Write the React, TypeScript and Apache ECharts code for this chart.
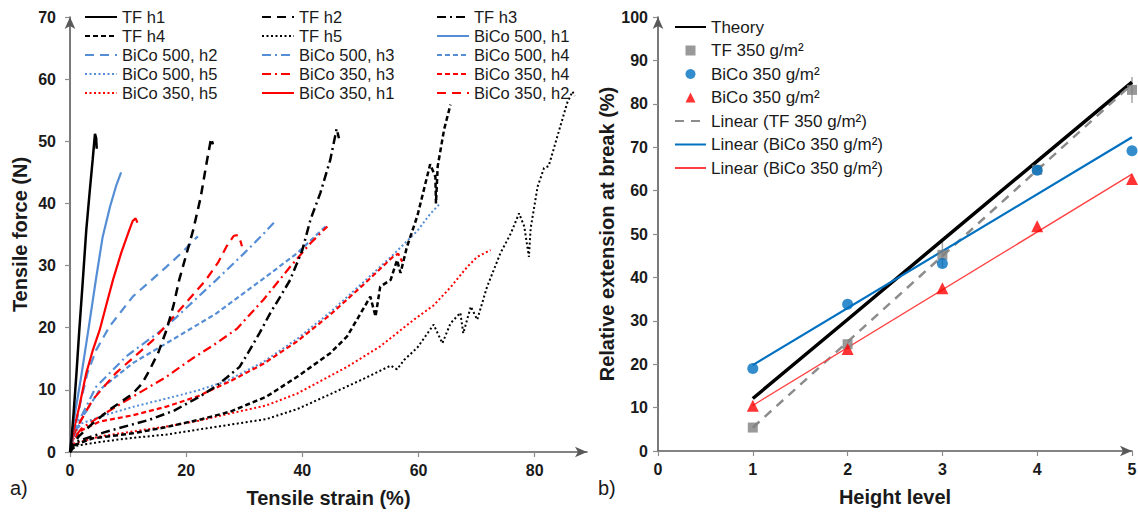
import React, { useEffect, useRef } from "react";
import * as echarts from "echarts";

const FONT = "'Liberation Sans', Arial, Helvetica, sans-serif";
const TXT = "#1a1a1a";

// ---------- Panel a) : [tensile strain %, tensile force N] ----------
const tfH1 = [[0,0],[0.3,2.5],[0.6,6],[1.1,12.5],[1.6,19.6],[2.2,27.5],[2.8,35.7],[3.4,42],[3.9,47],[4.3,51.2],[4.5,50.5],[4.6,48.8]];
const tfH2 = [[0,0],[0.5,1.3],[1.6,2.6],[3.9,4.6],[6.8,6.8],[9,8.2],[10.8,9.4],[12.4,11],[13.7,13.2],[15.2,16],[16.6,19.6],[17.8,23.5],[18.8,27.7],[20,31.7],[21.2,35.7],[22.5,41],[23.6,47],[24.3,50.5],[24.6,49.5]];
const tfH3 = [[0,0],[0.5,0.9],[1.5,1.8],[6,3.2],[13.7,5.2],[18,6.7],[22.3,8.9],[25,10.5],[27,12],[29.2,13.7],[31,16.5],[32.6,19.1],[34.5,22.4],[36.2,25],[37.9,27.7],[40,32.5],[41.4,37.4],[43.1,41.7],[44.8,47],[45.9,52],[46.3,50.5]];
const tfH4 = [[0,0],[1,1.2],[3.9,2.2],[10.8,3],[16.5,4],[22.3,5.2],[27.6,6.5],[33.8,8.9],[39.1,12.1],[44.8,15.9],[47.7,18.6],[49.4,21.3],[51.7,25],[52.6,21.8],[53.4,26.6],[55.2,27.7],[56.3,30.9],[56.9,28.8],[58,33],[59.8,38],[62,46.3],[62.9,44.3],[63,40],[63.3,46],[64.4,51.9],[65.5,55.9]];
const tfH5 = [[0,0],[1,1],[5.1,1.6],[10,2.2],[16.6,2.8],[22,3.6],[27.6,4.4],[33.8,5.3],[39.1,6.9],[44.8,9.3],[50.6,11.8],[55.2,13.9],[56.3,13.3],[57.5,14.8],[59.8,16.8],[62.6,20.5],[64.1,17.5],[65.5,20.7],[67.2,22.4],[67.7,19.1],[69,23.4],[70.1,21.3],[71.8,26.6],[74.1,32],[75.9,35.2],[77.3,38.4],[78.2,36.3],[79,31.4],[79.3,36],[80.5,42.7],[81.6,45.7],[82.4,46],[83.9,50.8],[85.6,56.2],[86.5,58],[86.9,57.3]];
const b500H1 = [[0,0],[0.3,3],[1,7],[1.9,12],[3.3,20.5],[4.5,28],[5.6,34.5],[6.9,39.5],[8,43],[8.8,45]];
const b500H2 = [[0,0],[0.4,2.5],[1,4.4],[1.9,8.4],[3,12.7],[4.5,16.4],[6.8,20.2],[10.8,25],[16.6,29.8],[19.5,32.3],[22,34.7]];
const b500H3 = [[0,0],[0.5,2.5],[1.2,4.5],[2.2,6.2],[4.5,10.5],[9.7,15.4],[16.6,20.2],[25.2,27.7],[30,32],[33.2,35],[35.3,37.1]];
const b500H4 = [[0,0],[0.5,2.2],[2.2,5.7],[5.1,10],[10.8,14.3],[16.6,17.5],[25.2,22.3],[33.3,27.9],[39.1,32],[44,36.3]];
const b500H5 = [[0,0],[0.4,2.5],[2,4.6],[6.2,6],[11,7.3],[16.6,8.6],[22,9.9],[26.9,11.4],[33.3,14.5],[39.1,18.2],[44.8,22.5],[50.6,27.4],[55.7,31.8],[59.8,35.6],[62,38.3],[63.8,40.1]];
const b350H1 = [[0,0],[0.3,2],[0.7,3.8],[1.6,7.3],[2.8,12.7],[3.9,16.3],[5.1,19.6],[6.2,23.5],[7.4,27.7],[8.8,32],[10.2,35.7],[10.8,37.2],[11.3,37.6],[11.6,36.9]];
const b350H2 = [[0,0],[0.5,2.5],[1.6,4.6],[3.9,8.4],[7.9,12.7],[14.3,18],[19.4,23.4],[23.4,27.7],[25.5,30.5],[26.9,33],[28.2,34.8],[28.9,34.9],[29.4,33.8],[29.6,33.1]];
const b350H3 = [[0,0],[0.5,2],[2,3.8],[5.1,5.7],[10.8,8.9],[16.6,12.1],[21,15],[25.2,17.5],[28.7,19.8],[33.3,24.5],[37.9,29.8],[41.4,33.6],[44.3,36.3]];
const b350H4 = [[0,0],[0.5,2],[2,3.5],[5.1,4.9],[10.8,5.9],[16.6,7.3],[22.1,9],[27.6,11.4],[33.3,14.2],[39.1,17.8],[44.8,22.1],[50.6,27],[55.7,31.5],[56.5,31.9],[57.2,30.6]];
const b350H5 = [[0,0],[0.5,1.3],[5.1,2.5],[10.8,3.3],[16.6,4.1],[22,5],[27.6,6.2],[33.8,7.5],[39.1,9.4],[47.7,13.7],[53.4,17],[59.2,21.3],[62.6,23.6],[65.5,26.5],[68.4,29.8],[70.1,31.4],[72.4,32.5]];

const strainTicks = [0, 20, 40, 60, 80];

// legend columns (panel a)
const legendCol1 = ["TF h1", "TF h4", "BiCo 500, h2", "BiCo 500, h5", "BiCo 350, h5"];
const legendCol2 = ["TF h2", "TF h5", "BiCo 500, h3", "BiCo 350, h3", "BiCo 350, h1"];
const legendCol3 = ["TF h3", "BiCo 500, h1", "BiCo 500, h4", "BiCo 350, h4", "BiCo 350, h2"];

// ---------- Panel b) ----------
const heightLevels = [1, 2, 3, 4, 5];
const theoryVals = [12.1, 30.3, 48.6, 66.8, 85.0];
const tf350Vals = [5.4, 24.6, 45.2, 64.8, 83.2];
const bicoBlueVals = [19.0, 33.8, 43.2, 64.7, 69.2];
const bicoRedVals = [10.4, 23.5, 37.5, 51.8, 62.7];
const tfErrLow = [null, null, 42.2, null, 80.2];
const tfErrHigh = [null, null, 48.2, null, 86.2];
const trendX = [1, 5];
const trendTF = [5.4, 84.5];
const trendBlue = [19.8, 72.3];
const trendRed = [10.5, 63.8];

const SQUARE_ICON = "path://M0,0L10,0L10,10L0,10Z";
const TRIANGLE_ICON = "path://M5,0L10,10L0,10Z";

const rightLegend = [
  { name: "Theory", line: true, icon: "" },
  { name: "TF 350 g/m²", line: false, icon: SQUARE_ICON },
  { name: "BiCo 350 g/m² (blue)", line: false, icon: "circle" },
  { name: "BiCo 350 g/m² (red)", line: false, icon: TRIANGLE_ICON },
  { name: "Linear (TF 350 g/m²)", line: true, icon: "" },
  { name: "Linear (BiCo 350 g/m²) (blue)", line: true, icon: "" },
  { name: "Linear (BiCo 350 g/m²) (red)", line: true, icon: "" },
];

const BLACK = "#000000";
const BLUE5 = "#558ED5";
const RED = "#FF0000";

const DASH: Record<string, any> = {
  h1: "solid",
  h2: [9, 6],
  h3: [9, 4, 2, 4],
  h4: [5, 3],
  h5: [2, 2.5],
};

function curve(name: string, data: number[][], color: string, h: string, width: number) {
  return {
    name,
    type: "line",
    xAxisIndex: 0,
    yAxisIndex: 0,
    data,
    showSymbol: false,
    symbol: "none",
    smooth: false,
    lineStyle: { color, width, type: DASH[h] },
    itemStyle: { color },
    emphasis: { disabled: true },
  };
}

const pair = (xs: number[], ys: number[]) => xs.map((x, i) => [x, ys[i]]);

const stripTag = (n: string) => n.replace(/ \((blue|red)\)$/, "");
const lineOnly = (n: string) => ({ name: n, itemStyle: { opacity: 0 } });

function axisCommon() {
  return {
    axisLine: {
      show: true,
      symbol: ["none", "arrow"],
      symbolSize: [8, 12],
      lineStyle: { color: "#595959", width: 1.6 },
    },
    axisTick: { show: true, length: 5, lineStyle: { color: "#8c8c8c", width: 1.2 } },
    axisLabel: { fontFamily: FONT, fontSize: 16, fontWeight: "bold", color: TXT },
    splitLine: { show: false },
    nameLocation: "middle",
    nameTextStyle: { fontFamily: FONT, fontSize: 20, fontWeight: "bold", color: TXT },
  };
}

const legendBase = {
  orient: "vertical",
  itemWidth: 32,
  itemHeight: 10,
  itemGap: 2,
  selectedMode: false,
  padding: 0,
  textStyle: { fontFamily: FONT, fontSize: 16.5, lineHeight: 17, color: TXT },
};

export default function App() {
  const ref = useRef<HTMLDivElement>(null);
  useEffect(() => {
    document.body.style.margin = "0";
    const chart = echarts.init(ref.current!, null, { renderer: "svg" });
    const c = axisCommon;
    const option: any = {
      animation: false,
      textStyle: { fontFamily: FONT },
      grid: [
        { left: 70, top: 17, width: 517, height: 435, outerBoundsMode: "none" },
        { left: 658, top: 17, width: 474, height: 434, outerBoundsMode: "none" },
      ],
      xAxis: [
        {
          ...c(),
          gridIndex: 0,
          type: "value",
          min: 0,
          max: 89,
          interval: 20,
          name: "Tensile strain (%)",
          nameGap: 36,
          axisTick: { ...c().axisTick, customValues: strainTicks },
          axisLabel: { ...c().axisLabel, margin: 10, customValues: strainTicks },
        },
        {
          ...c(),
          gridIndex: 1,
          type: "value",
          min: 0,
          max: 5,
          interval: 1,
          name: "Height level",
          nameGap: 36,
          axisLabel: { ...c().axisLabel, margin: 10 },
        },
      ],
      yAxis: [
        {
          ...c(),
          gridIndex: 0,
          type: "value",
          min: 0,
          max: 70,
          interval: 10,
          name: "Tensile force (N)",
          nameGap: 40,
          axisLabel: { ...c().axisLabel, margin: 14 },
        },
        {
          ...c(),
          gridIndex: 1,
          type: "value",
          min: 0,
          max: 100,
          interval: 10,
          name: "Relative extension at break (%)",
          nameGap: 40,
          axisLabel: { ...c().axisLabel, margin: 10 },
        },
      ],
      legend: [
        { ...legendBase, left: 84, top: 8.5, data: legendCol1.map(lineOnly) },
        { ...legendBase, left: 261, top: 8.5, data: legendCol2.map(lineOnly) },
        { ...legendBase, left: 436, top: 8.5, data: legendCol3.map(lineOnly) },
        {
          ...legendBase,
          left: 674,
          top: 18.5,
          itemWidth: 31,
          itemHeight: 10,
          itemGap: 6.5,
          symbolKeepAspect: true,
          textStyle: { fontFamily: FONT, fontSize: 17, lineHeight: 17, color: TXT },
          formatter: (n: string) => stripTag(n),
          data: rightLegend.map((d) =>
            d.line ? lineOnly(d.name) : { name: d.name, icon: d.icon }
          ),
        },
      ],
      graphic: [
        { type: "text", left: 10, top: 478, style: { text: "a)", font: `20px ${FONT}`, fill: TXT } },
        { type: "text", left: 598, top: 478, style: { text: "b)", font: `20px ${FONT}`, fill: TXT } },
      ],
      series: [
        curve("BiCo 350, h5", b350H5, RED, "h5", 2),
        curve("BiCo 500, h5", b500H5, BLUE5, "h5", 2),
        curve("BiCo 350, h4", b350H4, RED, "h4", 2.2),
        curve("BiCo 500, h4", b500H4, BLUE5, "h4", 2.2),
        curve("BiCo 350, h3", b350H3, RED, "h3", 2.2),
        curve("BiCo 500, h3", b500H3, BLUE5, "h3", 2.2),
        curve("BiCo 350, h2", b350H2, RED, "h2", 2.2),
        curve("BiCo 500, h2", b500H2, BLUE5, "h2", 2.2),
        curve("BiCo 350, h1", b350H1, RED, "h1", 2.2),
        curve("BiCo 500, h1", b500H1, BLUE5, "h1", 2.2),
        curve("TF h5", tfH5, BLACK, "h5", 2),
        curve("TF h4", tfH4, BLACK, "h4", 2.5),
        curve("TF h3", tfH3, BLACK, "h3", 2.5),
        curve("TF h2", tfH2, BLACK, "h2", 2.5),
        curve("TF h1", tfH1, BLACK, "h1", 2.5),
        {
          type: "custom",
          xAxisIndex: 1,
          yAxisIndex: 1,
          silent: true,
          z: 1,
          data: heightLevels
            .map((x, i) => [x, tfErrLow[i], tfErrHigh[i]])
            .filter((d) => d[1] != null),
          renderItem: (_p: any, api: any) => {
            const a = api.coord([api.value(0), api.value(1)]);
            const b = api.coord([api.value(0), api.value(2)]);
            return {
              type: "line",
              shape: { x1: a[0], y1: a[1], x2: b[0], y2: b[1] },
              style: { stroke: "#a6a6a6", lineWidth: 1.5 },
            };
          },
        },
        {
          name: "Theory",
          type: "line",
          xAxisIndex: 1,
          yAxisIndex: 1,
          data: pair(heightLevels, theoryVals),
          symbol: "none",
          showSymbol: false,
          lineStyle: { color: BLACK, width: 3.5 },
          itemStyle: { color: BLACK },
          z: 3,
        },
        {
          name: "Linear (TF 350 g/m²)",
          type: "line",
          xAxisIndex: 1,
          yAxisIndex: 1,
          data: pair(trendX, trendTF),
          symbol: "none",
          showSymbol: false,
          lineStyle: { color: "#8c8c8c", width: 2.5, type: [9, 7] },
          itemStyle: { color: "#8c8c8c" },
          z: 3,
        },
        {
          name: "Linear (BiCo 350 g/m²) (blue)",
          type: "line",
          xAxisIndex: 1,
          yAxisIndex: 1,
          data: pair(trendX, trendBlue),
          symbol: "none",
          showSymbol: false,
          lineStyle: { color: "#0070C0", width: 2.2 },
          itemStyle: { color: "#0070C0" },
          z: 3,
        },
        {
          name: "Linear (BiCo 350 g/m²) (red)",
          type: "line",
          xAxisIndex: 1,
          yAxisIndex: 1,
          data: pair(trendX, trendRed),
          symbol: "none",
          showSymbol: false,
          lineStyle: { color: "#FF4040", width: 1.3 },
          itemStyle: { color: "#FF4040" },
          z: 3,
        },
        {
          name: "TF 350 g/m²",
          type: "scatter",
          xAxisIndex: 1,
          yAxisIndex: 1,
          data: pair(heightLevels, tf350Vals),
          symbol: "rect",
          symbolSize: 10,
          itemStyle: { color: "#7f7f7f" },
          z: 4,
        },
        {
          name: "BiCo 350 g/m² (blue)",
          type: "scatter",
          xAxisIndex: 1,
          yAxisIndex: 1,
          data: pair(heightLevels, bicoBlueVals),
          symbol: "circle",
          symbolSize: 11,
          itemStyle: { color: "#0070C0" },
          z: 4,
        },
        {
          name: "BiCo 350 g/m² (red)",
          type: "scatter",
          xAxisIndex: 1,
          yAxisIndex: 1,
          data: pair(heightLevels, bicoRedVals),
          symbol: "triangle",
          symbolSize: 12,
          itemStyle: { color: "#FF0000" },
          z: 4,
        },
      ],
    };
    chart.setOption(option);
    return () => chart.dispose();
  }, []);
  return <div ref={ref} style={{ width: 1138, height: 512 }} />;
}
